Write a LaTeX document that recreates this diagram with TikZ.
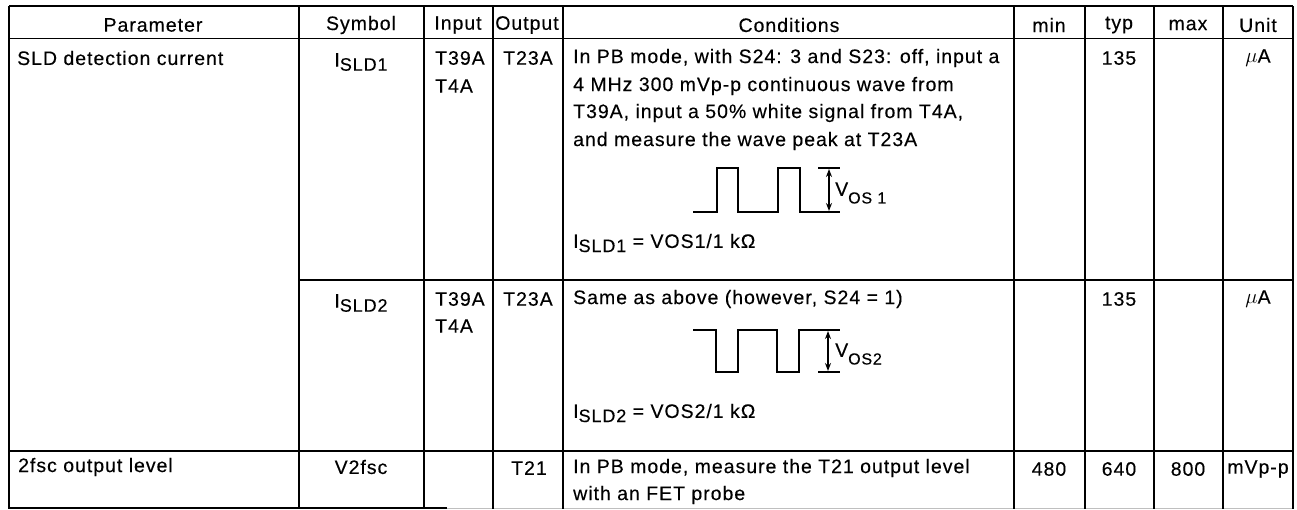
\documentclass[tikz,border=0pt]{standalone}
\usepackage{fontspec}
\usepackage{amsmath}
\setmainfont{Liberation Sans}[LetterSpace=5,FakeBold=0.25]
\usetikzlibrary{arrows.meta}
\newcommand{\lowtext}[2][18]{\raisebox{-0.4ex}{\fontsize{#1}{#1}\selectfont #2}}
\tikzset{
  tablerule/.style={black,line width=1.8pt},
  pulseline/.style={black,line width=1.6pt},
  celltext/.style={inner sep=0pt,font=\fontsize{19.5}{19.5}\selectfont,text=black},
  leftcell/.style={celltext,anchor=west},
  midcell/.style={celltext,anchor=center}
}
\begin{document}
\begin{tikzpicture}[x=1pt,y=-1pt]
  \useasboundingbox (0,0) rectangle (1297,509);
  \fill[white] (0,0) rectangle (1297,509);
  % rules of the table
  \draw[tablerule] (9,6) -- (1293,6);
  \draw[tablerule] (9,38.5) -- (1293,38.5);
  \draw[tablerule] (299,280) -- (1293,280);
  \draw[tablerule] (9,451) -- (1293,451);
  \draw[tablerule] (9,508) -- (447,508);
  \draw[lightgray,thin] (447,508) -- (1293,508);
  \foreach \colx in {9,299,424,493,563,1014,1085,1154,1223,1293}
    \draw[tablerule] (\colx,6) -- (\colx,509);
  % header
  \node[midcell] (parameter) at (153,25) {Parameter};
  \node[midcell] (symbol) at (361,25) {Symbol};
  \node[midcell] (input) at (458,25) {Input};
  \node[midcell] (output) at (527,25) {Output};
  \node[midcell] (conditions) at (789,25) {Conditions};
  \node[midcell] (minval) at (1049,25) {min};
  \node[midcell] (typval) at (1119,25) {typ};
  \node[midcell] (maxval) at (1188,25) {max};
  \node[midcell] (unit) at (1258,25) {Unit};
  % first row
  \node[leftcell] (sld) at (17,58) {SLD detection current};
  \node[midcell] (isldone) at (361,62) {I\lowtext{SLD1}};
  \node[leftcell] (inaone) at (435,58) {T39A};
  \node[leftcell] (inbone) at (435,86) {T4A};
  \node[midcell] (outone) at (528,58) {T23A};
  \node[leftcell] (condonea) at (573,58) {In PB mode, with S24: 3 and S23: off, input a};
  \node[leftcell] (condoneb) at (573,86) {4 MHz 300 mVp-p continuous wave from};
  \node[leftcell] (condonec) at (573,113) {T39A, input a 50\% white signal from T4A,};
  \node[leftcell] (condoned) at (573,141) {and measure the wave peak at T23A};
  \node[leftcell] (formulaone) at (573,243) {I\lowtext{SLD1} = VOS1/1 kΩ};
  \node[midcell] (typone) at (1119,58) {135};
  \node[midcell] (unitone) at (1258,58) {\(\mu\)A};
  % first pulse
  \coordinate (ponetop) at (818,168);
  \coordinate (ponetopend) at (840,168);
  \coordinate (ponebot) at (693,212);
  \coordinate (ponebotend) at (840,212);
  \draw[pulseline] (ponebot) -- (717,212) -- (717,168) -- (738,168) -- (738,212) -- (778,212) -- (778,168) -- (800,168) -- (800,212) -- (ponebotend);
  \draw[pulseline] (ponetop) -- (ponetopend);
  \draw[pulseline,{Stealth[length=8pt,width=6pt]}-{Stealth[length=8pt,width=6pt]}] (829,169) -- (829,211);
  \node[leftcell] (vosone) at (835,193) {\raisebox{0.35ex}{V}\lowtext[16]{OS 1}};
  % second row
  \node[midcell] (isldtwo) at (361,303) {I\lowtext{SLD2}};
  \node[leftcell] (inatwo) at (435,299) {T39A};
  \node[leftcell] (inbtwo) at (435,326) {T4A};
  \node[midcell] (outtwo) at (528,299) {T23A};
  \node[leftcell] (condtwo) at (573,299) {Same as above (however, S24 = 1)};
  \node[leftcell] (formulatwo) at (573,413) {I\lowtext{SLD2} = VOS2/1 kΩ};
  \node[midcell] (typtwo) at (1119,299) {135};
  \node[midcell] (unittwo) at (1258,299) {\(\mu\)A};
  % second pulse
  \coordinate (ptwotop) at (693,330);
  \coordinate (ptwotopend) at (840,330);
  \coordinate (ptwobot) at (818,372);
  \coordinate (ptwobotend) at (840,372);
  \draw[pulseline] (ptwotop) -- (716,330) -- (716,372) -- (738,372) -- (738,330) -- (777,330) -- (777,372) -- (799,372) -- (799,330) -- (ptwotopend);
  \draw[pulseline] (ptwobot) -- (ptwobotend);
  \draw[pulseline,{Stealth[length=8pt,width=6pt]}-{Stealth[length=8pt,width=6pt]}] (828,331) -- (828,371);
  \node[leftcell] (vostwo) at (835,354) {\raisebox{0.35ex}{V}\lowtext[16]{OS2}};
  % third row
  \node[leftcell] (twofsc) at (18,467) {2fsc output level};
  \node[midcell] (vtwofsc) at (361,467) {V2fsc};
  \node[midcell] (outthree) at (529,468) {T21};
  \node[leftcell] (condthreea) at (573,468) {In PB mode, measure the T21 output level};
  \node[leftcell] (condthreeb) at (573,495) {with an FET probe};
  \node[midcell] (minthree) at (1049,469) {480};
  \node[midcell] (typthree) at (1119,469) {640};
  \node[midcell] (maxthree) at (1188,469) {800};
  \node[midcell] (unitthree) at (1258,469) {mVp-p};
\end{tikzpicture}
\end{document}
